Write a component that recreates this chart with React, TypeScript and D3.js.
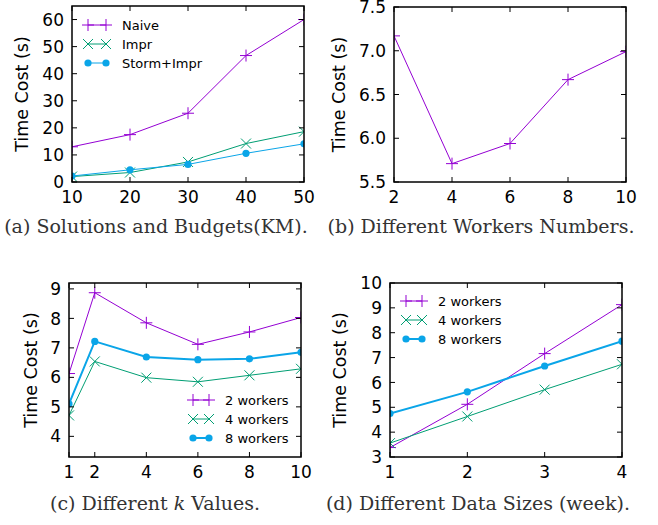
import React from 'react';
import * as d3 from 'd3';

// ---------- data ----------
const budgets = [10, 20, 30, 40, 50];
const naive = [13.0, 17.5, 25.4, 46.7, 60.0];
const impr = [2.0, 3.5, 7.4, 14.2, 18.6];
const stormImpr = [2.2, 4.5, 6.5, 10.6, 14.1];

const workerCounts = [2, 4, 6, 8, 10];
const workerCost = [7.17, 5.71, 5.94, 6.67, 6.99];

const kValues = [1, 2, 4, 6, 8, 10];
const k2 = [6.13, 8.87, 7.85, 7.12, 7.54, 8.03];
const k4 = [4.71, 6.54, 5.99, 5.85, 6.07, 6.29];
const k8 = [5.1, 7.22, 6.69, 6.6, 6.63, 6.85];

const weeks = [1, 2, 3, 4];
const w2 = [3.38, 5.12, 7.16, 9.13];
const w4 = [3.56, 4.63, 5.71, 6.73];
const w8 = [4.75, 5.62, 6.66, 7.66];

const aXTicks = [10, 20, 30, 40, 50];
const aYTicks = [0, 10, 20, 30, 40, 50, 60];
const bXTicks = [2, 4, 6, 8, 10];
const bYTicks = [5.5, 6.0, 6.5, 7.0, 7.5];
const cXTicks = [1, 2, 4, 6, 8, 10];
const cYTicks = [4, 5, 6, 7, 8, 9];
const dXTicks = [1, 2, 3, 4];
const dYTicks = [3, 4, 5, 6, 7, 8, 9, 10];

const seriesNamesA = ['Naive', 'Impr', 'Storm+Impr'];
const seriesNamesW = ['2 workers', '4 workers', '8 workers'];

const PURPLE = '#9400D3';
const GREEN = '#009E73';
const BLUE = '#0AA5E8';

const TICK_FS = 17;
const LABEL_FS = 17.5;

type Marker = 'plus' | 'x' | 'circle';
type Series = { name: string; xs: number[]; ys: number[]; color: string; marker: Marker; lw: number };

function MarkerShape({ type, x, y, color }: { type: Marker; x: number; y: number; color: string }) {
  if (type === 'plus') {
    return <path d={`M${x - 6},${y}h12M${x},${y - 6}v12`} stroke={color} strokeWidth={1} fill="none" />;
  }
  if (type === 'x') {
    return <path d={`M${x - 5},${y - 5}l10,10M${x - 5},${y + 5}l10,-10`} stroke={color} strokeWidth={1} fill="none" />;
  }
  return <circle cx={x} cy={y} r={3.6} fill={color} />;
}

type PanelProps = {
  id: string;
  box: [number, number, number, number];
  xDomain: [number, number];
  yDomain: [number, number];
  xTicks: number[];
  yTicks: number[];
  yFmt?: (v: number) => string;
  series: Series[];
  legend?: { x0: number; x1: number; tx: number; ys: number[] };
  ylabelX: number;
};

function Panel(p: PanelProps) {
  const [x0, x1, y0, y1] = p.box;
  const xs = d3.scaleLinear().domain(p.xDomain).range([x0, x1]);
  const ys = d3.scaleLinear().domain(p.yDomain).range([y1, y0]);
  const fmt = p.yFmt || ((v: number) => String(v));
  const line = d3.line<[number, number]>().x(d => xs(d[0])).y(d => ys(d[1]));
  const tl = 5;
  return (
    <g>
      <defs>
        <clipPath id={`clip-${p.id}`}>
          <rect x={x0} y={y0} width={x1 - x0} height={y1 - y0} />
        </clipPath>
      </defs>
      <g clipPath={`url(#clip-${p.id})`}>
        {p.series.map(s => (
          <g key={s.name}>
            <path d={line(s.xs.map((x, i) => [x, s.ys[i]] as [number, number])) || ''} fill="none" stroke={s.color} strokeWidth={s.lw} />
            {s.xs.map((x, i) => (
              <MarkerShape key={i} type={s.marker} x={xs(x)} y={ys(s.ys[i])} color={s.color} />
            ))}
          </g>
        ))}
      </g>
      {p.xTicks.map(t => (
        <g key={'xt' + t}>
          <line x1={xs(t)} x2={xs(t)} y1={y1} y2={y1 - tl} stroke="#000" strokeWidth={1} />
          <line x1={xs(t)} x2={xs(t)} y1={y0} y2={y0 + tl} stroke="#000" strokeWidth={1} />
          <text x={xs(t)} y={y1 + 21} textAnchor="middle" fontSize={TICK_FS} fontFamily="DejaVu Sans">{t}</text>
        </g>
      ))}
      {p.yTicks.map(t => (
        <g key={'yt' + t}>
          <line x1={x0} x2={x0 + tl} y1={ys(t)} y2={ys(t)} stroke="#000" strokeWidth={1} />
          <line x1={x1} x2={x1 - tl} y1={ys(t)} y2={ys(t)} stroke="#000" strokeWidth={1} />
          <text x={x0 - 8} y={ys(t)} dy="0.36em" textAnchor="end" fontSize={TICK_FS} fontFamily="DejaVu Sans">{fmt(t)}</text>
        </g>
      ))}
      <rect x={x0} y={y0} width={x1 - x0} height={y1 - y0} fill="none" stroke="#000" strokeWidth={1.5} />
      <text
        transform={`translate(${p.ylabelX},${(y0 + y1) / 2}) rotate(-90)`}
        textAnchor="middle"
        dy="0.36em"
        fontSize={LABEL_FS}
        fontFamily="DejaVu Sans"
      >
        Time Cost (s)
      </text>
      {p.legend &&
        p.series.map((s, i) => {
          const lg = p.legend!;
          const y = lg.ys[i];
          return (
            <g key={'lg' + s.name}>
              <line x1={lg.x0} x2={lg.x1} y1={y} y2={y} stroke={s.color} strokeWidth={s.lw} />
              <MarkerShape type={s.marker} x={lg.x0} y={y} color={s.color} />
              <MarkerShape type={s.marker} x={lg.x1} y={y} color={s.color} />
              <text x={lg.tx} y={y} dy="0.36em" fontSize={13} fontFamily="DejaVu Sans">{s.name}</text>
            </g>
          );
        })}
    </g>
  );
}

const capFont = 'DejaVu Serif';
const capColor = '#333';
const CAP_FS = 19;

export default function App() {
  const seriesA: Series[] = [
    { name: seriesNamesA[0], xs: budgets, ys: naive, color: PURPLE, marker: 'plus', lw: 1 },
    { name: seriesNamesA[1], xs: budgets, ys: impr, color: GREEN, marker: 'x', lw: 1 },
    { name: seriesNamesA[2], xs: budgets, ys: stormImpr, color: BLUE, marker: 'circle', lw: 1 },
  ];
  const seriesB: Series[] = [
    { name: 'workers', xs: workerCounts, ys: workerCost, color: PURPLE, marker: 'plus', lw: 1 },
  ];
  const seriesC: Series[] = [
    { name: seriesNamesW[0], xs: kValues, ys: k2, color: PURPLE, marker: 'plus', lw: 1 },
    { name: seriesNamesW[1], xs: kValues, ys: k4, color: GREEN, marker: 'x', lw: 1 },
    { name: seriesNamesW[2], xs: kValues, ys: k8, color: BLUE, marker: 'circle', lw: 2 },
  ];
  const seriesD: Series[] = [
    { name: seriesNamesW[0], xs: weeks, ys: w2, color: PURPLE, marker: 'plus', lw: 1 },
    { name: seriesNamesW[1], xs: weeks, ys: w4, color: GREEN, marker: 'x', lw: 1 },
    { name: seriesNamesW[2], xs: weeks, ys: w8, color: BLUE, marker: 'circle', lw: 2 },
  ];
  return (
    <svg width={658} height={525} style={{ position: 'absolute', left: 0, top: 0, background: '#fff' }}>
      <rect width={658} height={525} fill="#fff" />
      <Panel id="a" box={[72, 304, 6, 182]} xDomain={[10, 50]} yDomain={[0, 65]} xTicks={aXTicks} yTicks={aYTicks}
        series={seriesA} legend={{ x0: 88, x1: 106, tx: 122, ys: [25, 44, 63] }} ylabelX={22} />
      <Panel id="b" box={[394, 626, 7, 182]} xDomain={[2, 10]} yDomain={[5.5, 7.5]} xTicks={bXTicks} yTicks={bYTicks}
        yFmt={d3.format('.1f')} series={seriesB} ylabelX={339} />
      <Panel id="c" box={[69, 301, 283, 457]} xDomain={[1, 10]} yDomain={[3.3, 9.2]} xTicks={cXTicks} yTicks={cYTicks}
        series={seriesC} legend={{ x0: 193, x1: 209, tx: 225, ys: [400, 419, 438] }} ylabelX={31} />
      <Panel id="d" box={[390, 622, 283, 457]} xDomain={[1, 4]} yDomain={[3, 10]} xTicks={dXTicks} yTicks={dYTicks}
        series={seriesD} legend={{ x0: 406, x1: 422, tx: 438, ys: [301, 320, 339] }} ylabelX={340} />
      <text x={156} y={233} textAnchor="middle" fontSize={CAP_FS} fontFamily={capFont} fill={capColor}>(a) Solutions and Budgets(KM).</text>
      <text x={481} y={233} textAnchor="middle" fontSize={CAP_FS} fontFamily={capFont} fill={capColor}>(b) Different Workers Numbers.</text>
      <text x={155} y={510} textAnchor="middle" fontSize={CAP_FS} fontFamily={capFont} fill={capColor}>
        <tspan>(c) Different </tspan><tspan fontStyle="italic">k</tspan><tspan> Values.</tspan>
      </text>
      <text x={478} y={510} textAnchor="middle" fontSize={CAP_FS} fontFamily={capFont} fill={capColor}>(d) Different Data Sizes (week).</text>
    </svg>
  );
}
